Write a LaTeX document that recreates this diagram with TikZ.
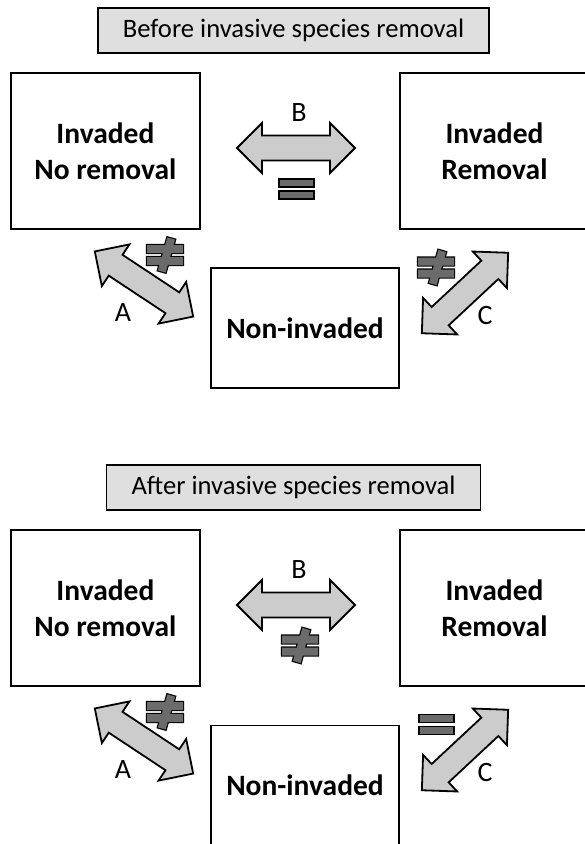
\documentclass[tikz,border=0pt]{standalone}
\usepackage{fontspec}
\setmainfont{Carlito}
\definecolor{arrowgray}{RGB}{204,204,204}
\definecolor{signgray}{RGB}{107,107,107}
\definecolor{titlegray}{RGB}{223,223,223}
\newcommand\boxfnt{\fontsize{29.5}{36}\selectfont\bfseries}
\newcommand\titlefnt{\fontsize{26.6}{30}\selectfont}
\newcommand\labfnt{\fontsize{28}{30}\selectfont}
\tikzset{
  box/.style={draw=black,line width=1.3pt,fill=white,inner sep=0pt,align=center,font=\boxfnt,minimum width=189pt},
  titlebox/.style={draw=black,line width=1.3pt,fill=titlegray,inner xsep=25pt,inner ysep=0pt,minimum height=45pt,font=\titlefnt},
  lab/.style={inner sep=0pt,font=\labfnt},
  dblarrow/.pic={
    \path[draw=black,line width=1.8pt,fill=arrowgray,line join=miter]
      (-59,0) -- (-34,-25) -- (-34,-12.5) -- (34,-12.5) -- (34,-25) -- (59,0)
      -- (34,25) -- (34,12.5) -- (-34,12.5) -- (-34,25) -- cycle;
  },
  eqsign/.pic={
    \path[draw=black,line width=1.2pt,fill=signgray]
      (-17.5,-10) rectangle (17.5,-2) (-17.5,2) rectangle (17.5,10);
  },
  neqsign/.pic={
    \path[draw=black,line width=2.4pt]
      (-18,-10) rectangle (18,-2) (-18,2) rectangle (18,10)
      (10.05,-15.4) -- (2.35,-17.6) -- (-7.05,15.4) -- (0.65,17.6) -- cycle;
    \path[fill=signgray]
      (-18,-10) rectangle (18,-2) (-18,2) rectangle (18,10)
      (10.05,-15.4) -- (2.35,-17.6) -- (-7.05,15.4) -- (0.65,17.6) -- cycle;
  }
}
\begin{document}
\begin{tikzpicture}[x=1pt,y=-1pt]
\useasboundingbox (0,0) rectangle (585,844);
\clip (0,0) rectangle (585,844);
% ---------- top section ----------
\node[titlebox] (tTitle) at (293.5,30.5) {Before invasive species removal};
\node[box,minimum height=156pt] (tLeft) at (105.4,151) {Invaded\\No removal};
\node[box,minimum height=156pt] (tRight) at (494.5,151) {Invaded\\Removal};
\node[box,minimum height=120pt,minimum width=188pt] (tNon) at (305,328) {Non-invaded};
\coordinate (tB) at (296,148);
\coordinate (tA) at (144,284);
\coordinate (tC) at (465,293);
\pic at (tB) {dblarrow};
\pic[rotate=-33.5] at (tA) {dblarrow};
\pic[rotate=43] at (tC) {dblarrow};
\node[lab] (tBl) at (299,113) {B};
\node[lab] (tAl) at (123,313) {A};
\node[lab] (tCl) at (485,316) {C};
\pic at (296.5,189) {eqsign};
\pic at (165,255) {neqsign};
\pic at (436,267.5) {neqsign};
% ---------- bottom section ----------
\begin{scope}[shift={(0,457)}]
\node[titlebox] (bTitle) at (293.5,30.5) {After invasive species removal};
\node[box,minimum height=156pt] (bLeft) at (105.4,151) {Invaded\\No removal};
\node[box,minimum height=156pt] (bRight) at (494.5,151) {Invaded\\Removal};
\node[box,minimum height=240pt,minimum width=188pt,anchor=north] (bNon) at (305,268) {};
\node[inner sep=0pt,font=\boxfnt] (bNonT) at (305,328) {Non-invaded};
\coordinate (bB) at (296,148);
\coordinate (bA) at (144,284);
\coordinate (bC) at (465,293);
\pic at (bB) {dblarrow};
\pic[rotate=-33.5] at (bA) {dblarrow};
\pic[rotate=43] at (bC) {dblarrow};
\node[lab] (bBl) at (299,113) {B};
\node[lab] (bAl) at (123,313) {A};
\node[lab] (bCl) at (485,316) {C};
\pic at (300,188.5) {neqsign};
\pic at (165,255) {neqsign};
\pic at (436.5,267.5) {eqsign};
\end{scope}
\end{tikzpicture}
\end{document}
